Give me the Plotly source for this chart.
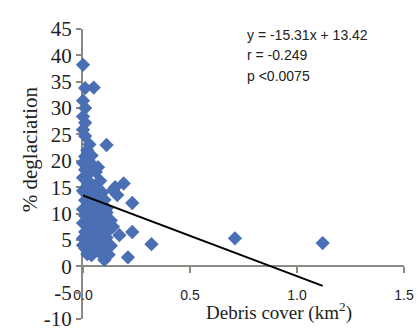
import plotly.graph_objects as go

# Debris cover (km²) vs. % deglaciation for individual glaciers
debris_km2 = [
    0.00, 0.01, 0.05, 0.00, 0.01, 0.00, 0.01, 0.00, 0.01, 0.11,
    0.03, 0.02, 0.01, 0.00, 0.04, 0.01, 0.06, 0.00, 0.08, 0.03,
    0.19, 0.15, 0.02, 0.05, 0.14, 0.00, 0.16, 0.07, 0.03, 0.01,
    0.10, 0.23, 0.05, 0.02, 0.08, 0.00, 0.04, 0.11, 0.06, 0.01,
    0.03, 0.09, 0.13, 0.05, 0.00, 0.07, 0.02, 0.10, 0.04, 0.12,
    0.23, 0.01, 0.06, 0.08, 0.17, 0.03, 0.00, 0.11, 0.05, 0.71,
    0.02, 0.09, 0.07, 0.32, 1.12, 0.00, 0.04, 0.13, 0.01, 0.06,
    0.10, 0.03, 0.08, 0.04, 0.21, 0.10, 0.02, 0.12, 0.05, 0.09,
    0.02, 0.04, 0.07, 0.01, 0.06, 0.03, 0.14, 0.11,
]
deglaciation_pct = [
    38.2, 33.8, 33.9, 31.4, 30.0, 28.4, 27.2, 25.9, 24.7, 23.0,
    23.1, 22.0, 20.8, 19.6, 19.4, 18.3, 17.9, 16.8, 16.2, 16.0,
    15.7, 15.0, 15.2, 14.8, 14.4, 14.3, 13.5, 13.6, 13.2, 12.5,
    12.6, 12.0, 11.9, 11.3, 11.5, 10.8, 10.5, 10.2, 10.0, 9.6,
    9.2, 9.4, 8.7, 8.5, 8.2, 7.9, 7.6, 7.3, 7.0, 6.8,
    6.5, 6.5, 6.2, 5.9, 5.9, 5.6, 5.3, 5.4, 5.0, 5.3,
    4.7, 4.6, 4.3, 4.2, 4.4, 4.0, 3.8, 3.9, 3.4, 3.2,
    3.0, 2.8, 2.5, 2.1, 1.7, 1.2, 2.3, 2.2, 12.8, 14.0,
    17.3, 21.0, 18.8, 13.9, 8.8, 4.5, 7.5, 11.0,
]

# Linear fit reported on the chart
slope = -15.31
intercept = 13.42
fit_x = [0.0, 1.12]
fit_y = [slope * x + intercept for x in fit_x]
stats_lines = ["y = -15.31x + 13.42", "r = -0.249", "p <0.0075"]

x_ticks = [0.0, 0.5, 1.0, 1.5]
x_tick_text = ["0.0", "0.5", "1.0", "1.5"]
y_ticks = [-10, -5, 0, 5, 10, 15, 20, 25, 30, 35, 40, 45]
# short hyphen (U+2010) so negatives keep a narrow dash
y_tick_text = [str(v).replace("-", "\u2010") for v in y_ticks]

axis_grey = "#8c8882"
serif = "Liberation Serif"
sans = "Liberation Sans"

fig = go.Figure()
fig.add_trace(go.Scatter(
    x=debris_km2, y=deglaciation_pct, mode="markers",
    marker=dict(symbol="diamond", size=11, color="#4a6fb4", line=dict(width=0)),
    cliponaxis=False, showlegend=False,
))
fig.add_trace(go.Scatter(
    x=fit_x, y=fit_y, mode="lines",
    line=dict(color="black", width=2), cliponaxis=False, showlegend=False,
))

y_min, y_max = -10, 45
fig.update_layout(
    width=420, height=333,
    margin=dict(l=83, r=16, t=29, b=14),
    paper_bgcolor="white", plot_bgcolor="white",
    xaxis=dict(
        range=[0, 1.5], tickvals=x_ticks, ticktext=x_tick_text,
        anchor="free", position=(0 - y_min) / (y_max - y_min),
        showline=True, linecolor=axis_grey, linewidth=2,
        ticks="outside", ticklen=6, tickwidth=2, tickcolor=axis_grey,
        ticklabelstandoff=10, automargin=False,
        showgrid=False, zeroline=False, layer="below traces",
        tickfont=dict(family=sans, size=14, color="#222"),
    ),
    yaxis=dict(
        range=[y_min, y_max], tickvals=y_ticks, ticktext=y_tick_text,
        showline=True, linecolor=axis_grey, linewidth=2,
        ticks="outside", ticklen=5, tickwidth=2, tickcolor=axis_grey,
        automargin=False,
        showgrid=False, zeroline=False, layer="below traces",
        tickfont=dict(family=serif, size=21, color="#222"),
    ),
)

fig.add_annotation(
    x=0.916, y=-8.5, xref="x", yref="y", showarrow=False,
    xanchor="center", yanchor="middle",
    text="Debris cover (km<sup>2</sup>)",
    font=dict(family=serif, size=19, color="#222"),
)
fig.add_annotation(
    x=-0.165, y=22.2, xref="paper", yref="y", showarrow=False,
    xanchor="center", yanchor="middle",
    text="% deglaciation", textangle=-90,
    font=dict(family=serif, size=21, color="#222"),
)
for line_text, y_pos in zip(stats_lines, [43.8, 40.0, 36.0]):
    fig.add_annotation(
        x=0.757, y=y_pos, xref="x", yref="y", showarrow=False,
        xanchor="left", yanchor="middle", text=line_text,
        font=dict(family=sans, size=14, color="#222"),
    )

fig.write_html("out.html")
